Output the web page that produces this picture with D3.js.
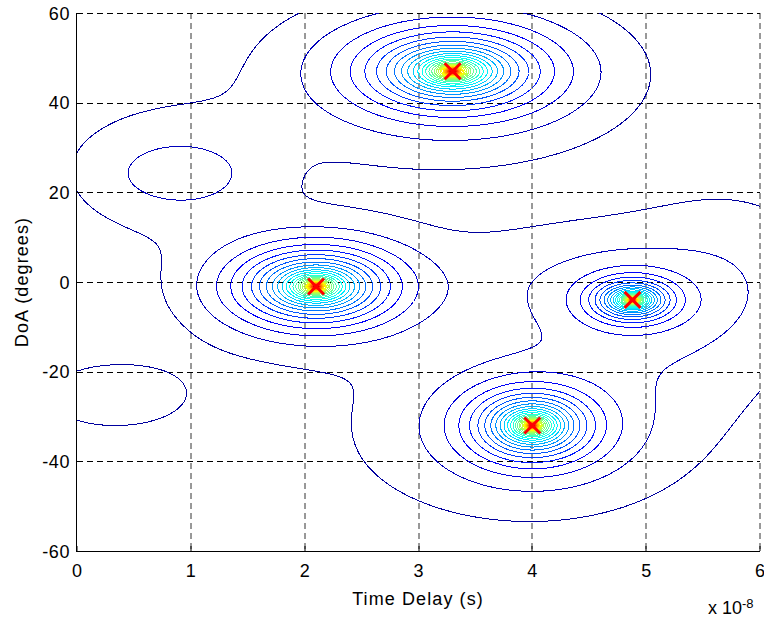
<!DOCTYPE html>
<html><head><meta charset="utf-8">
<script src="https://cdn.jsdelivr.net/npm/d3@7"></script>
<style>
body{margin:0;background:#fff}
text{font-family:Arial,"Liberation Sans",Helvetica,sans-serif;fill:#000}
</style>
</head><body>
<svg id="chart" width="764" height="620"></svg>
<script>
// ---- data ----
const xTicks = [0, 1, 2, 3, 4, 5, 6];
const yTicks = [-60, -40, -20, 0, 20, 40, 60];
const xLabel = "Time Delay (s)";
const yLabel = "DoA (degrees)";
// detected paths (spectrum peaks): delay in units of 1e-8 s, DoA in degrees
const peakX   = [3.30, 2.10, 4.88, 4.00];
const peakY   = [47.0, -1.0, -4.0, -32.0];
const peakAmp = [1.0, 1.0, 1.0, 1.0];
const peakWx  = [1.40, 1.20, 0.68, 1.00];
const peakWy  = [16.0, 15.0, 9.0, 15.0];
// noise-floor undulations of the spectrum
const bumpX   = [0.80, 0.93, 0.30, 3.20, 3.90, 4.30, 5.80, 4.90];
const bumpY   = [25.0, 24.0, -25.5, 45.0, -35.0, 1.0, 2.0, -10.0];
const bumpAmp = [1.3, 1.1, 1.0, 1.0, 0.9, 0.8, 1.0, 1.2];
const bumpSx  = [0.65, 0.42, 0.58, 1.10, 1.30, 0.90, 0.60, 0.75];
const bumpSy  = [10.0, 5.0, 6.7, 13.0, 15.0, 8.0, 14.0, 14.0];
const floorLevel = 1.0;
const peakCore = 2e-4;     // peak height ~74 dB above the floor
const levelStep = 2.2;     // dB between contour levels

// ---- layout ----
const X0 = 77, X1 = 760, Y0 = 13, Y1 = 551;
const x = d3.scaleLinear().domain([0, 6]).range([X0, X1]);
const y = d3.scaleLinear().domain([-60, 60]).range([Y1, Y0]);
const svg = d3.select("#chart");

function field(xv, yv) {
  let s = floorLevel;
  for (let k = 0; k < bumpX.length; k++) {
    const dx = (xv - bumpX[k]) / bumpSx[k], dy = (yv - bumpY[k]) / bumpSy[k];
    s += bumpAmp[k] * Math.exp(-0.5 * (dx * dx + dy * dy));
  }
  s = Math.max(s, 0.05);
  for (let k = 0; k < peakX.length; k++) {
    const dx = (xv - peakX[k]) / peakWx[k], dy = (yv - peakY[k]) / peakWy[k];
    const q = peakCore + dx * dx + dy * dy;
    s += peakAmp[k] / (q * q);
  }
  return 10 * Math.log10(s);
}

// grid sampled at pixel centres, with a 1-cell margin outside the plot
const n = (X1 - X0) + 3, m = (Y1 - Y0) + 3;
const values = new Float64Array(n * m);
for (let j = 0; j < m; j++) {
  const yv = y.invert(Y0 - 1 + j + 0.5);
  for (let i = 0; i < n; i++) {
    values[j * n + i] = field(x.invert(X0 - 1 + i + 0.5), yv);
  }
}
const zmin = d3.min(values);
const zmax = d3.max(peakX.map((px, k) => field(px, peakY[k])));
const nLevels = Math.floor((zmax - zmin) / levelStep) - 1;
const levels = d3.range(1, nLevels + 1).map(i => zmin + i * levelStep);

function jet(t) {
  const c = v => Math.max(0, Math.min(1, v));
  const r = c(1.5 - Math.abs(4 * t - 3)), g = c(1.5 - Math.abs(4 * t - 2)), b = c(1.5 - Math.abs(4 * t - 1));
  return d3.rgb(r * 255, g * 255, b * 255).toString();
}

svg.append("defs").append("clipPath").attr("id", "clip")
  .append("rect").attr("x", X0).attr("y", Y0).attr("width", X1 - X0).attr("height", Y1 - Y0);

// grid
const grid = svg.append("g");
grid.selectAll("line.v").data(xTicks.slice(1)).join("line")
  .attr("x1", d => Math.round(x(d))).attr("x2", d => Math.round(x(d)))
  .attr("y1", Y0).attr("y2", Y1)
  .attr("stroke", "#333").attr("stroke-width", 1).attr("stroke-dasharray", "6,4");
grid.selectAll("line.h").data(yTicks.slice(1)).join("line")
  .attr("x1", X0).attr("x2", X1)
  .attr("y1", d => Math.round(y(d)) + 0.5).attr("y2", d => Math.round(y(d)) + 0.5)
  .attr("stroke", "#000").attr("stroke-width", 1).attr("stroke-dasharray", "6,4");

// contours
const contours = d3.contours().size([n, m]).thresholds(levels)(values);
const tr = d3.geoTransform({ point(px, py) { this.stream.point(X0 - 1 + px, Y0 - 1 + py); } });
const path = d3.geoPath(tr);
svg.append("g").attr("clip-path", "url(#clip)")
  .selectAll("path").data(contours).join("path")
  .attr("d", path)
  .attr("fill", "none")
  .attr("stroke", d => jet((d.value - zmin) / (zmax - zmin)))
  .attr("stroke-width", 1)
  .attr("shape-rendering", "crispEdges");

// axes (left and bottom)
const ax = svg.append("g");
ax.append("line").attr("x1", X0 - 0.5).attr("x2", X0 - 0.5).attr("y1", Y0).attr("y2", Y1 + 1).attr("stroke", "#000");
ax.append("line").attr("x1", X0 - 1).attr("x2", X1).attr("y1", Y1 + 0.5).attr("y2", Y1 + 0.5).attr("stroke", "#000");
ax.selectAll("line.xt").data(xTicks).join("line")
  .attr("x1", d => Math.round(x(d))).attr("x2", d => Math.round(x(d)))
  .attr("y1", Y1).attr("y2", Y1 - 5).attr("stroke", "#000");
ax.selectAll("line.yt").data(yTicks).join("line")
  .attr("x1", X0).attr("x2", X0 + 5)
  .attr("y1", d => Math.round(y(d)) + 0.5).attr("y2", d => Math.round(y(d)) + 0.5).attr("stroke", "#000");
ax.selectAll("text.xt").data(xTicks).join("text")
  .attr("x", d => x(d)).attr("y", 577).attr("text-anchor", "middle")
  .attr("font-size", 18).text(d => d);
ax.selectAll("text.yt").data(yTicks).join("text")
  .attr("x", 70).attr("y", d => y(d) + 6.5).attr("text-anchor", "end")
  .attr("font-size", 18).attr("letter-spacing", 0.6).text(d => d);
svg.append("text").attr("x", 418).attr("y", 605).attr("text-anchor", "middle")
  .attr("font-size", 18).attr("letter-spacing", 1.1).text(xLabel);
svg.append("text").attr("transform", "translate(28,282) rotate(-90)").attr("text-anchor", "middle")
  .attr("font-size", 18).attr("letter-spacing", 1.1).text(yLabel);
const sc = svg.append("text").attr("x", 708).attr("y", 614).attr("font-size", 18);
sc.append("tspan").text("x 10");
sc.append("tspan").attr("dy", -6).attr("font-size", 13).text("-8");

// peak markers
const mk = svg.append("g");
peakX.forEach((px, k) => {
  const cx = x(px), cy = y(peakY[k]), h = 8;
  mk.append("line").attr("x1", cx - h).attr("y1", cy - h).attr("x2", cx + h).attr("y2", cy + h)
    .attr("stroke", "#ff0000").attr("stroke-width", 3);
  mk.append("line").attr("x1", cx - h).attr("y1", cy + h).attr("x2", cx + h).attr("y2", cy - h)
    .attr("stroke", "#ff0000").attr("stroke-width", 3);
});
</script>
</body></html>
